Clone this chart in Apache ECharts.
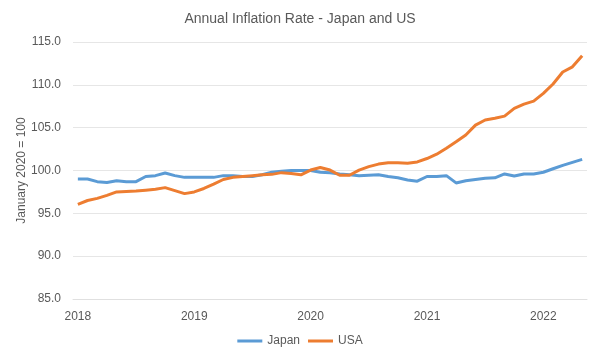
<!DOCTYPE html>
<html>
<head>
<meta charset="utf-8">
<script src="https://cdn.jsdelivr.net/npm/echarts@6/dist/echarts.min.js"></script>
<style>html,body{margin:0;padding:0;background:#fff}#c{width:600px;height:360px}</style>
</head>
<body>
<div id="c"></div>
<script>
var titleText = "Annual Inflation Rate - Japan and US";
var yAxisName = "January 2020 = 100";
var months = [];
for (var y = 2018; y <= 2022; y++) {
  for (var m = 1; m <= 12; m++) {
    if (y === 2022 && m > 5) break;
    months.push(y + "-" + (m < 10 ? "0" + m : m));
  }
}
var japan = [99.0, 99.0, 98.7, 98.6, 98.8, 98.7, 98.7, 99.3, 99.4, 99.7, 99.4, 99.2,
             99.2, 99.2, 99.2, 99.4, 99.4, 99.3, 99.3, 99.5, 99.8, 99.9, 100.0, 100.0,
             100.0, 99.8, 99.75, 99.6, 99.5, 99.4, 99.45, 99.5, 99.3, 99.15, 98.9, 98.75,
             99.3, 99.3, 99.4, 98.55, 98.8, 98.95, 99.1, 99.15, 99.6, 99.35, 99.6, 99.6,
             99.8, 100.2, 100.6, 100.95, 101.3];
var usa = [96.05, 96.5, 96.75, 97.1, 97.5, 97.55, 97.6, 97.7, 97.8, 98.0, 97.65, 97.3,
           97.5, 97.9, 98.4, 98.95, 99.2, 99.3, 99.4, 99.5, 99.55, 99.75, 99.65, 99.5,
           100.05, 100.35, 100.05, 99.45, 99.45, 100.05, 100.45, 100.75, 100.9, 100.9, 100.85, 101.0,
           101.4, 101.9, 102.6, 103.35, 104.15, 105.3, 105.9, 106.1, 106.35, 107.25, 107.75, 108.1,
           109.0, 110.1, 111.5, 112.1, 113.4];
var yTicks = {min: 85, max: 115, interval: 5};

var chart = echarts.init(document.getElementById('c'), null, {renderer: 'canvas'});
var font = "'Liberation Sans', Arial, sans-serif";
chart.setOption({
  animation: false,
  textStyle: {fontFamily: font},
  title: {
    text: titleText, left: 'center', top: 7,
    textStyle: {fontSize: 14, fontWeight: 'normal', color: '#595959', fontFamily: font}
  },
  legend: {
    bottom: 8, left: 'center', icon: 'rect', itemWidth: 25, itemHeight: 3, itemGap: 8,
    textStyle: {fontSize: 12, color: '#595959', fontFamily: font},
    data: ['Japan', 'USA']
  },
  grid: {left: 73, right: 13, top: 42, bottom: 61, containLabel: false},
  xAxis: {
    type: 'category', data: months, boundaryGap: true,
    axisLine: {show: true, lineStyle: {color: '#e0e0e0'}},
    axisTick: {show: false},
    axisLabel: {
      interval: function (i) { return i % 12 === 0; },
      formatter: function (v) { return v.slice(0, 4); },
      fontSize: 12, color: '#595959', margin: 12, fontFamily: font
    },
    splitLine: {show: false}
  },
  yAxis: {
    type: 'value', min: yTicks.min, max: yTicks.max, interval: yTicks.interval,
    name: yAxisName, nameLocation: 'middle', nameGap: 45, nameRotate: 90,
    nameMoveOverlap: false,
    nameTextStyle: {fontSize: 12, color: '#595959', fontFamily: font},
    axisLine: {show: false}, axisTick: {show: false},
    axisLabel: {formatter: function (v) { return v.toFixed(1); }, fontSize: 12, color: '#595959', margin: 12, fontFamily: font},
    splitLine: {lineStyle: {color: '#e6e6e6', width: 1}}
  },
  series: [
    {name: 'Japan', type: 'line', data: japan, showSymbol: false, symbol: 'none',
     lineStyle: {color: '#5B9BD5', width: 3}, itemStyle: {color: '#5B9BD5'}},
    {name: 'USA', type: 'line', data: usa, showSymbol: false, symbol: 'none',
     lineStyle: {color: '#ED7D31', width: 3}, itemStyle: {color: '#ED7D31'}}
  ]
});
</script>
</body>
</html>
